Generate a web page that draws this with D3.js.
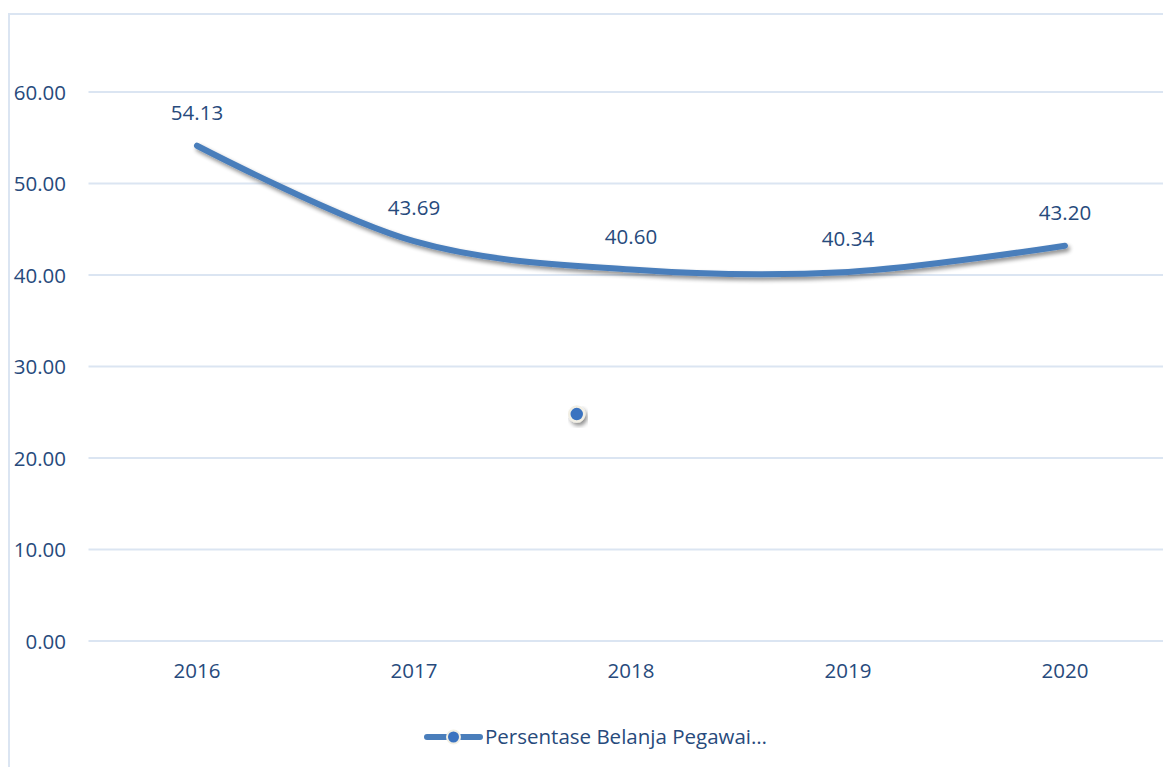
<!DOCTYPE html>
<html>
<head>
<meta charset="utf-8">
<script src="https://cdn.jsdelivr.net/npm/d3@7"></script>
<style>
  html, body { margin: 0; padding: 0; background: #ffffff; }
  svg { display: block; font-family: "Open Sans", Lato, sans-serif; }
</style>
</head>
<body>
<svg id="chart" width="1163" height="767"></svg>
<script>
// Data
const years = ["2016", "2017", "2018", "2019", "2020"];
const persentase = [54.13, 43.69, 40.60, 40.34, 43.20];
const yTicks = [0, 10, 20, 30, 40, 50, 60];
const seriesName = "Persentase Belanja Pegawai…";
// a loose marker left over in the plot area: [position between categories, value]
const looseMarker = [[1.75, 24.8]];

const lineColor = "#4a7ebb";
const textColor = "#274a7c";
const gridColor = "#dbe5f2";
const fontFamily = "'Open Sans', Lato, sans-serif";
const fontSize = 20.5;

const svg = d3.select("#chart");
const W = 1163, H = 767;

// shadow filter for the line and markers
const defs = svg.append("defs");
const f = defs.append("filter").attr("id", "shadow")
  .attr("x", "-20%").attr("y", "-20%").attr("width", "140%").attr("height", "160%");
f.append("feGaussianBlur").attr("in", "SourceAlpha").attr("stdDeviation", 2.2).attr("result", "b");
f.append("feOffset").attr("in", "b").attr("dx", 2).attr("dy", 3).attr("result", "o");
f.append("feComponentTransfer").attr("in", "o").attr("result", "s")
  .append("feFuncA").attr("type", "linear").attr("slope", 0.45);
const m = f.append("feMerge");
m.append("feMergeNode").attr("in", "s");
m.append("feMergeNode").attr("in", "SourceGraphic");

// chart area border (top and left edges visible)
svg.append("path")
  .attr("d", `M9,${H + 5}V14H${W + 5}`)
  .attr("fill", "none").attr("stroke", gridColor).attr("stroke-width", 2);

const plot = { left: 88.5, right: 1173.5, top: 92, bottom: 641 };

const x = d3.scaleBand().domain(years).range([plot.left, plot.right]);
const xc = i => x(years[0]) + x.bandwidth() / 2 + i * x.step();
const y = d3.scaleLinear().domain([0, 60]).range([plot.bottom, plot.top]);

// horizontal grid lines
svg.append("g").selectAll("line").data(yTicks).join("line")
  .attr("x1", plot.left).attr("x2", W)
  .attr("y1", d => y(d)).attr("y2", d => y(d))
  .attr("stroke", gridColor).attr("stroke-width", 2);

// y axis labels
const yAxis = d3.axisLeft(y).tickValues(yTicks).tickFormat(d3.format(".2f")).tickSize(0).tickPadding(0);
const gy = svg.append("g").attr("transform", "translate(66,0)").call(yAxis);
gy.select(".domain").remove();
gy.selectAll("text").attr("fill", textColor).attr("font-size", fontSize)
  .attr("font-family", fontFamily).attr("dy", "0.35em");

// x axis labels
const xAxis = d3.axisBottom(x).tickSize(0).tickPadding(0);
const gx = svg.append("g").attr("transform", "translate(0,663)").call(xAxis);
gx.select(".domain").remove();
gx.selectAll("text").attr("fill", textColor).attr("font-size", fontSize)
  .attr("font-family", fontFamily).attr("dy", "0.71em");

// smoothed line
const line = d3.line()
  .x((d, i) => xc(i))
  .y(d => y(d))
  .curve(d3.curveCardinal.tension(0));

svg.append("path")
  .datum(persentase)
  .attr("d", line)
  .attr("fill", "none")
  .attr("stroke", lineColor)
  .attr("stroke-width", 6)
  .attr("stroke-linecap", "round")
  .attr("filter", "url(#shadow)");

// value labels
svg.append("g").selectAll("text").data(persentase).join("text")
  .attr("x", (d, i) => xc(i))
  .attr("y", d => y(d) - 26)
  .attr("text-anchor", "middle")
  .attr("fill", textColor).attr("font-size", fontSize).attr("font-family", fontFamily)
  .text(d => d.toFixed(2));

// loose marker
svg.append("g").selectAll("circle").data(looseMarker).join("circle")
  .attr("cx", d => xc(d[0]))
  .attr("cy", d => y(d[1]))
  .attr("r", 7.5)
  .attr("fill", "#3a73c0")
  .attr("stroke", "#f2efe4").attr("stroke-width", 2.5)
  .attr("filter", "url(#shadow)");

// legend
const lg = svg.append("g").attr("transform", "translate(427,737)");
lg.append("line").attr("x1", 0).attr("x2", 53).attr("y1", 0).attr("y2", 0)
  .attr("stroke", lineColor).attr("stroke-width", 6).attr("stroke-linecap", "round");
lg.append("circle").attr("cx", 26.5).attr("cy", 0).attr("r", 6.5)
  .attr("fill", "#3a73c0").attr("stroke", "#f2efe4").attr("stroke-width", 2);
lg.append("text").attr("x", 58).attr("y", 0).attr("dy", "0.35em")
  .attr("fill", textColor).attr("font-size", fontSize).attr("font-family", fontFamily)
  .text(seriesName);
</script>
</body>
</html>
